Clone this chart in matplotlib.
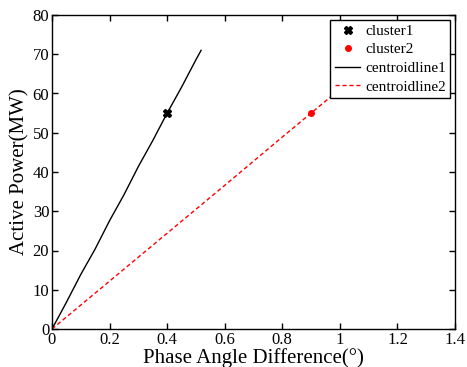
import numpy as np
import matplotlib.pyplot as plt

plt.rcParams['font.family'] = ['Liberation Serif', 'DejaVu Serif']
plt.rcParams['mathtext.fontset'] = 'stix'

# 聚類中心
cluster1_x = [0.40]
cluster1_y = [55.0]
cluster2_x = [0.90]
cluster2_y = [55.0]

# 中心線 (讀圖估計)
line1_x = [0.0, 0.05, 0.10, 0.15, 0.20, 0.25, 0.30, 0.35, 0.40, 0.45, 0.50, 0.518]
line1_y = [0.0, 6.8, 13.9, 20.4, 27.6, 34.2, 41.4, 48.0, 55.0, 61.6, 68.6, 71.0]
line2_x = [0.0, 0.2, 0.4, 0.6, 0.8, 0.9, 1.0, 1.15]
line2_y = [0.0, 12.2, 24.4, 36.6, 48.9, 55.0, 61.1, 70.3]

fig = plt.figure(figsize=(4.67, 3.67), dpi=100)
ax = fig.add_axes([52/467, 38/367, 403/467, 314/367])

ax.plot(cluster1_x, cluster1_y, 'kX', markersize=6, linestyle='none', label='cluster1')
ax.plot(cluster2_x, cluster2_y, 'o', color='red', markersize=4, linestyle='none', label='cluster2')
ax.plot(line1_x, line1_y, color='black', linewidth=1, label='centroidline1')
ax.plot(line2_x, line2_y, color='red', linestyle='--', dashes=(3, 2), linewidth=1, label='centroidline2')

ax.set_xlim(0, 1.4)
ax.set_ylim(0, 80)
ax.set_xticks([0, 0.2, 0.4, 0.6, 0.8, 1, 1.2, 1.4])
ax.set_xticklabels(['0', '0.2', '0.4', '0.6', '0.8', '1', '1.2', '1.4'])
ax.set_yticks(range(0, 81, 10))
ax.tick_params(direction='in', top=True, right=True, labelsize=12, length=4, width=1, pad=2)
for s in ax.spines.values():
    s.set_linewidth(1)

ax.set_xlabel('Phase Angle Difference(°)', fontsize=15, labelpad=0)
ax.set_ylabel('Active Power(MW)', fontsize=15, labelpad=2)

leg = ax.legend(loc='upper right', fontsize=11, frameon=True, fancybox=False,
                edgecolor='black', framealpha=1, borderpad=0.3, labelspacing=0.32,
                handlelength=1.7, handletextpad=0.3, borderaxespad=0.3)
leg.get_frame().set_linewidth(1)

plt.savefig('out.png', dpi=100)
